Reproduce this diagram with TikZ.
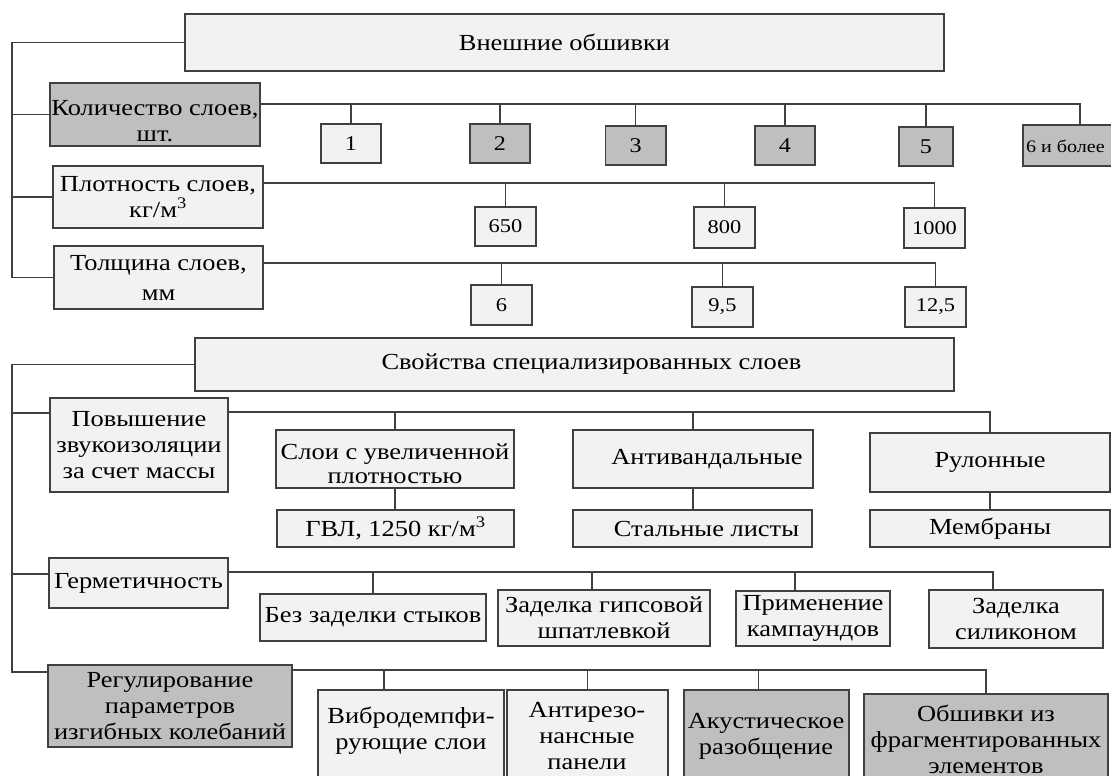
\documentclass[tikz,border=0pt]{standalone}
\usepackage{fontspec}
\setmainfont{Liberation Serif}[FakeStretch=1.15]
\newcommand\myLfont{\fontsize{23}{26}\selectfont}
\newcommand\myNfont{\fontsize{21}{24}\selectfont}
\newcommand\mySfont{\fontsize{19.5}{23}\selectfont}
\definecolor{linec}{RGB}{64,64,64}
\definecolor{lightf}{RGB}{242,242,242}
\definecolor{darkf}{RGB}{191,191,191}
\tikzset{
  bx/.style={draw=linec, line width=1.2pt, fill=lightf, inner sep=1pt, outer sep=0pt, align=center, font=\myLfont},
  dk/.style={bx, fill=darkf},
  nb/.style={bx, font=\myNfont},
  nbd/.style={dk, font=\myNfont},
  sb/.style={bx, font=\mySfont},
  txt/.style={inner sep=0pt, outer sep=0pt, align=center, font=\myLfont},
  ln/.style={draw=linec, line width=1.2pt}
}
\newcommand\mybox[7]{\node[#6, minimum width={(#4)-(#2)}, minimum height={(#5)-(#3)}] (#1) at ({((#2)+(#4))/2},{((#3)+(#5))/2}) {#7};}
\begin{document}
\begin{tikzpicture}[x=1pt,y=-1pt]
\useasboundingbox (0,0) rectangle (1111,776);
\fill[white] (0,0) rectangle (1111,776);
\clip (0,0) rectangle (1111,776);
% ---------- section 1
\mybox{top}{185}{14}{944}{71}{bx}{Внешние обшивки}
\mybox{kol}{50}{83}{260}{146}{dk}{}
\node[txt] (kolt) at (155,121) {Количество слоев,\\шт.};
\mybox{b1}{321}{124}{381}{163}{nb}{1}
\mybox{b2}{470}{124}{530}{163}{nbd}{2}
\mybox{b3}{605.5}{126}{666}{165}{nbd}{3}
\mybox{b4}{755}{126}{815}{165}{nbd}{4}
\mybox{b5}{899}{127}{953}{166}{nbd}{5}
\mybox{b6}{1023}{125}{1130}{166}{nbd}{}
\node[txt, font=\fontsize{17.5}{20}\selectfont, anchor=west] (b6t) at (1026,146) {6 и более};
\mybox{pl}{53}{166}{263}{228}{bx}{Плотность слоев,\\кг/м\textsuperscript{3}}
\mybox{p650}{475}{207}{536}{246}{sb}{650}
\mybox{p800}{694}{207}{755}{248}{sb}{800}
\mybox{p1000}{904}{208}{965}{248}{sb}{1000}
\mybox{tol}{54}{246}{263}{309}{bx}{Толщина слоев,\\[4pt]мм}
\mybox{th6}{471}{285}{532}{325}{sb}{6}
\mybox{t95}{692}{287}{753}{327}{sb}{9,5}
\mybox{t125}{905}{287}{966}{327}{sb}{12,5}
\coordinate (trA) at (12,0);
\draw[ln] (top.west) -| (trA |- tol.west) -- (tol.west);
\draw[ln] (kol.west) -- (kol.west -| trA);
\draw[ln] (pl.west) -- (pl.west -| trA);
\coordinate (kb) at ([yshift=-21pt]kol.north east);
\coordinate (b6n) at ([xshift=3.5pt]b6.north);
\draw[ln] (kb) -| (b6n);
\foreach \n in {b1,b2,b3,b4,b5} \draw[ln] (\n.north) -- (\n.north |- kb);
\coordinate (pb) at ([yshift=-17pt]pl.north east);
\draw[ln] (pb) -| (p1000.north);
\foreach \n in {p650,p800} \draw[ln] (\n.north) -- (\n.north |- pb);
\coordinate (tb) at ([yshift=-17pt]tol.north east);
\draw[ln] (tb) -| (t125.north);
\foreach \n in {th6,t95} \draw[ln] (\n.north) -- (\n.north |- tb);
% ---------- section 2
\mybox{svo}{195}{338}{954}{391}{bx}{\hspace*{34pt}Свойства специализированных слоев}
\mybox{pov}{50}{398}{228}{492}{bx}{Повышение\\звукоизоляции\\за счет массы}
\mybox{sloi}{276}{430}{514}{488}{bx}{}
\node[txt] (sloit) at (395,464) {Слои с увеличенной\\[-2pt]плотностью};
\mybox{gvl}{277}{510}{514}{547}{bx}{ГВЛ, 1250 кг/м\textsuperscript{3}}
\mybox{anti}{573}{430}{813}{488}{bx}{\hspace*{28pt}Антивандальные}
\mybox{stal}{573}{510}{812}{547}{bx}{\hspace*{28pt}Стальные листы}
\mybox{rul}{870}{433}{1110}{492}{bx}{Рулонные}
\mybox{mem}{870}{510}{1110}{547}{bx}{Мембраны}
\mybox{germ}{49}{558}{228}{608}{bx}{Герметичность}
\mybox{bez}{260}{594}{486}{641}{bx}{Без заделки стыков}
\mybox{gip}{498}{590}{710}{646}{bx}{Заделка гипсовой\\шпатлевкой}
\mybox{prim}{736}{591}{890}{646}{bx}{Применение\\кампаундов}
\mybox{sil}{929}{590}{1103}{648}{bx}{Заделка\\силиконом}
\mybox{reg}{48}{665}{292}{747}{dk}{Регулирование\\параметров\\изгибных колебаний}
\mybox{vib}{318}{690}{504}{800}{bx}{}
\mybox{ant}{507}{690}{668}{800}{bx}{}
\mybox{aku}{684}{690}{849}{800}{dk}{}
\mybox{obs}{864}{694}{1108}{800}{dk}{}
\node[txt] (vibt) at (411,731) {Вибродемпфи-\\рующие слои};
\node[txt] (antt) at (587,736) {Антирезо-\\нансные\\панели};
\node[txt] (akut) at (766,736) {Акустическое\\разобщение};
\node[txt] (obst) at (986,739) {Обшивки из\\фрагментированных\\элементов};
\coordinate (trB) at (12,0);
\coordinate (regc) at ([yshift=-7pt]reg.north west);
\coordinate (povc) at ([yshift=-15pt]pov.north west);
\coordinate (germc) at ([yshift=-16pt]germ.north west);
\draw[ln] (svo.west) -| (trB |- regc) -- (regc);
\draw[ln] (povc) -- (povc -| trB);
\draw[ln] (germc) -- (germc -| trB);
\coordinate (pvb) at ([yshift=-14pt]pov.north east);
\draw[ln] (pvb) -| (rul.north);
\foreach \n in {sloi,anti} \draw[ln] (\n.north) -- (\n.north |- pvb);
\draw[ln] (sloi.south) -- (sloi.south |- gvl.north);
\draw[ln] (anti.south) -- (anti.south |- stal.north);
\draw[ln] (rul.south) -- (rul.south |- mem.north);
\coordinate (gb) at ([yshift=-14pt]germ.north east);
\coordinate (silt) at ([xshift=-23pt]sil.north);
\coordinate (gipt) at ([xshift=-12pt]gip.north);
\coordinate (primt) at ([xshift=-18pt]prim.north);
\draw[ln] (gb) -| (silt);
\draw[ln] (bez.north) -- (bez.north |- gb);
\draw[ln] (gipt) -- (gipt |- gb);
\draw[ln] (primt) -- (primt |- gb);
\coordinate (rb) at ([yshift=-5pt]reg.north east);
\coordinate (vibn) at ([xshift=-27pt]vib.north);
\coordinate (akun) at ([xshift=-8pt]aku.north);
\draw[ln] (rb) -| (obs.north);
\draw[ln] (vibn) -- (vibn |- rb);
\draw[ln] (ant.north) -- (ant.north |- rb);
\draw[ln] (akun) -- (akun |- rb);
\end{tikzpicture}
\end{document}
